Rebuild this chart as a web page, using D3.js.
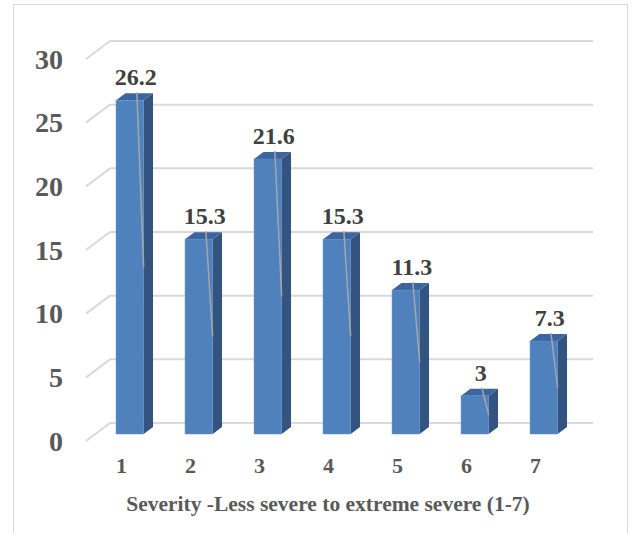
<!DOCTYPE html>
<html>
<head>
<meta charset="utf-8">
<script src="https://cdn.jsdelivr.net/npm/d3@7"></script>
<style>
html,body{margin:0;padding:0;background:#fff;}
svg{display:block;}
</style>
</head>
<body>
<svg id="chart" width="632" height="533"></svg>
<script>
const categories = ["1","2","3","4","5","6","7"];
const values = [26.2, 15.3, 21.6, 15.3, 11.3, 3, 7.3];
const valueLabels = ["26.2","15.3","21.6","15.3","11.3","3","7.3"];
const yTicks = [0, 5, 10, 15, 20, 25, 30];
const axisTitle = "Severity -Less severe to extreme severe (1-7)";

const svg = d3.select("#chart");
const FONT = "'Liberation Serif', 'Times New Roman', Times, serif";

// frame
svg.append("rect").attr("x", 13.5).attr("y", 4.5).attr("width", 614).attr("height", 540)
  .attr("fill", "#fff").attr("stroke", "#D9D9D9").attr("stroke-width", 1);

// 3D geometry
const depth = {dx: 24, dy: -18};          // floor depth vector (front -> back wall)
const frontLeft = 86, frontRight = 569;
const yFront = d3.scaleLinear().domain([0, 30]).range([441, 59]);
const xFront = d3.scaleBand().domain(categories).range([frontLeft, frontRight])
  .paddingInner(0.6).paddingOuter(0.3);

const f1 = 0.39, f2 = 0.78;   // bar front / back plane fractions of depth
const proj = (x, y, f) => [x + depth.dx * f, y + depth.dy * f];

// gridlines (back wall) and side wall diagonals
const grid = svg.append("g");
yTicks.forEach(t => {
  const yf = yFront(t);
  const [xb, yb] = proj(frontLeft, yf, 1);
  grid.append("line").attr("x1", frontLeft).attr("y1", yf).attr("x2", xb).attr("y2", yb)
    .attr("stroke", "#D9D9D9").attr("stroke-width", 2);
  grid.append("line").attr("x1", xb).attr("y1", yb).attr("x2", frontRight + depth.dx).attr("y2", yb)
    .attr("stroke", "#D9D9D9").attr("stroke-width", 2);
});

// y axis labels
svg.append("g").selectAll("text").data(yTicks).join("text")
  .attr("x", 63).attr("y", d => yFront(d) + 9.5)
  .attr("text-anchor", "end")
  .attr("font-family", FONT)
  .attr("font-weight", "bold").attr("font-size", 28).attr("fill", "#595959")
  .text(d => d);

// bars
const bars = svg.append("g");
const bw = xFront.bandwidth();
categories.forEach((c, i) => {
  const v = values[i];
  const [x0, y0] = proj(xFront(c), yFront(0), f1);
  const [, yt] = proj(xFront(c), yFront(v), f1);
  const x1 = x0 + bw;
  const ddx = depth.dx * (f2 - f1), ddy = depth.dy * (f2 - f1);
  // side face
  bars.append("path")
    .attr("d", `M${x1},${yt} L${x1 + ddx},${yt + ddy} L${x1 + ddx},${y0 + ddy} L${x1},${y0} Z`)
    .attr("fill", "#33547F");
  // top face
  bars.append("path")
    .attr("d", `M${x0},${yt} L${x0 + ddx},${yt + ddy} L${x1 + ddx},${yt + ddy} L${x1},${yt} Z`)
    .attr("fill", "#3C65A0");
  // front face
  bars.append("rect").attr("x", x0).attr("y", yt).attr("width", bw).attr("height", y0 - yt)
    .attr("fill", "#4F81BD").attr("stroke", "#5B8AC6").attr("stroke-width", 0.5);
  // leader line
  const cx = x0 + bw / 2;
  bars.append("line")
    .attr("x1", cx + 7).attr("y1", yt + ddy - 1)
    .attr("x2", x1).attr("y2", (yt + y0) / 2)
    .attr("stroke", "#A6A6A6").attr("stroke-width", 1.5);
  // value label
  bars.append("text")
    .attr("x", cx + 6).attr("y", yt + ddy - 8)
    .attr("text-anchor", "middle")
    .attr("font-family", FONT)
    .attr("font-weight", "bold").attr("font-size", 24).attr("fill", "#404040")
    .text(valueLabels[i]);
});

// x axis labels
svg.append("g").selectAll("text").data(categories).join("text")
  .attr("x", d => xFront(d) + bw / 2 + 1).attr("y", 473)
  .attr("text-anchor", "middle")
  .attr("font-family", FONT)
  .attr("font-weight", "bold").attr("font-size", 22).attr("fill", "#595959")
  .text(d => d);

// axis title
svg.append("text").attr("x", 328).attr("y", 511)
  .attr("text-anchor", "middle")
  .attr("font-family", FONT)
  .attr("font-weight", "bold").attr("font-size", 21.5).attr("fill", "#595959")
  .text(axisTitle);
</script>
</body>
</html>
